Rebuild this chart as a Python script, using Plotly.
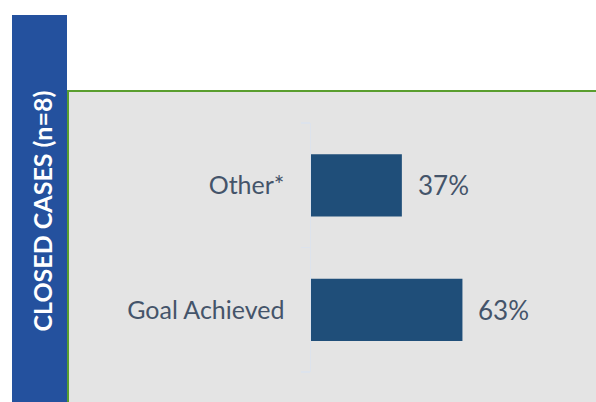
import plotly.graph_objects as go

categories = ["Goal Achieved", "Other*"]
values = [62.5, 37.5]
value_labels = ["63%", "37%"]
title_text = "CLOSED CASES (n=8)"

W, H = 596, 402

def px_x(p):
    return p / W

def px_y(p):
    return 1 - p / H

BAR = "#1F4E79"
TXT = "#44546A"
PANEL = "#E4E4E4"
GREEN = "#5A9E2F"
BLUE = "#24519E"
AXIS = "#DDE3EC"
FONT = "Lato"

fig = go.Figure()
fig.add_trace(go.Bar(
    y=categories, x=values, orientation="h",
    marker=dict(color=BAR, line=dict(width=0)),
    hoverinfo="skip",
))

x_zero = 311
scale = 2.423
fig.update_layout(
    width=W, height=H,
    margin=dict(l=0, r=0, t=0, b=0),
    paper_bgcolor="white",
    plot_bgcolor="rgba(0,0,0,0)",
    showlegend=False,
    bargap=0.5,
    xaxis=dict(
        domain=[px_x(x_zero), 1],
        range=[0, (W - x_zero) / scale],
        visible=False, fixedrange=True,
    ),
    yaxis=dict(
        domain=[px_y(372), px_y(123)],
        showline=True, linecolor=AXIS, linewidth=1.5,
        ticks="outside", ticklen=9, tickcolor=AXIS, tickwidth=1.5,
        tickson="boundaries",
        showgrid=False, zeroline=False,
        tickfont=dict(family=FONT, size=25, color=TXT),
        ticklabelstandoff=20,
        fixedrange=True,
    ),
    shapes=[
        dict(type="rect", xref="paper", yref="paper",
             x0=px_x(68), x1=1.02, y0=-0.02, y1=px_y(91),
             fillcolor=PANEL, line=dict(color=GREEN, width=2), layer="below"),
        dict(type="rect", xref="paper", yref="paper",
             x0=px_x(12), x1=px_x(67), y0=-0.02, y1=px_y(15),
             fillcolor=BLUE, line=dict(width=0), layer="below"),
    ],
)

annotations = []
for c, v, lab in zip(categories, values, value_labels):
    annotations.append(dict(
        x=v, y=c, xref="x", yref="y", text=lab, showarrow=False,
        xanchor="left", yanchor="middle", xshift=14,
        font=dict(family=FONT, size=26, color=TXT),
    ))
annotations.append(dict(
    x=px_x(41), y=px_y(211.5), xref="paper", yref="paper",
    text="<b>" + title_text + "</b>", textangle=-90, showarrow=False,
    xanchor="center", yanchor="middle",
    font=dict(family=FONT, size=25, color="white"),
))
fig.update_layout(annotations=annotations)

fig.write_html(
    "out.html",
    config={"displayModeBar": False, "staticPlot": True},
    post_script="document.body.style.margin='0';document.body.style.overflow='hidden';",
)
